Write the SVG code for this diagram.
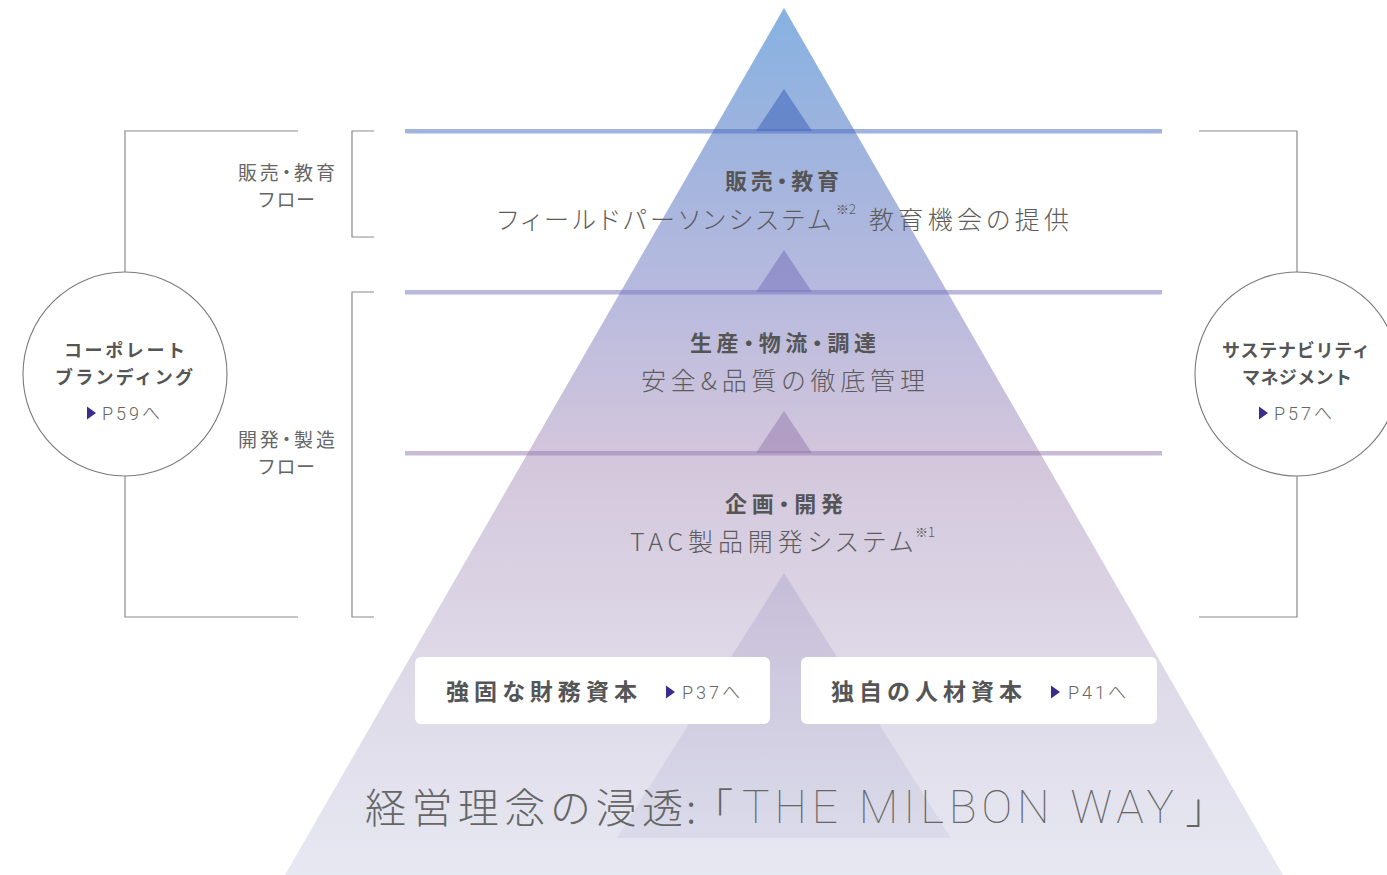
<svg xmlns="http://www.w3.org/2000/svg" width="1387" height="875" viewBox="0 0 1387 875">
<defs>
<linearGradient id="gMain" gradientUnits="userSpaceOnUse" x1="0" y1="8" x2="0" y2="875">
<stop offset="0" stop-color="#86b2e2"/>
<stop offset="0.14" stop-color="#9cb3de"/>
<stop offset="0.33" stop-color="#b8bade"/>
<stop offset="0.515" stop-color="#d3c6dc"/>
<stop offset="0.7" stop-color="#dcd5e5"/>
<stop offset="1" stop-color="#e6e8f2"/>
</linearGradient>
<linearGradient id="gInner" gradientUnits="userSpaceOnUse" x1="0" y1="573" x2="0" y2="838">
<stop offset="0" stop-color="#a79ec6" stop-opacity="0.4"/>
<stop offset="1" stop-color="#c2c2dc" stop-opacity="0.3"/>
</linearGradient>
<polygon id="arrowHead" points="0,-6.5 9,0 0,6.5"/>
</defs>
<style>
.ln{fill:none;stroke:#8a8a8a;stroke-width:1.2}
.circ{fill:#ffffff;stroke:#7a7a7a;stroke-width:1.1}
.hd{font-family:"Noto Sans CJK JP","Noto Sans",sans-serif;font-weight:700;fill:#555555;font-feature-settings:"palt"}
.lt{font-family:"Noto Sans CJK JP","Noto Sans",sans-serif;font-weight:300;fill:#5c5c5c;font-feature-settings:"palt"}
.lbl{font-family:"Noto Sans CJK JP","Noto Sans",sans-serif;font-weight:400;fill:#666666;font-feature-settings:"palt"}
.pg{font-family:"Roboto","Noto Sans CJK JP",sans-serif;font-weight:300;fill:#666666;font-size:18px}
.arr{fill:#3c2a8c}
.box{fill:#ffffff}
</style>

<g id="pyramid">
<polygon points="784,8 1283,875 285,875" fill="url(#gMain)"/>
<polygon points="784,573 951,838 617,838" fill="url(#gInner)"/>
</g>

<g id="connectors">
<rect x="405" y="129" width="757" height="4.5" fill="rgb(70,105,190)" fill-opacity="0.5"/>
<polygon points="784,89 812,131 756,131" fill="rgb(70,105,190)" fill-opacity="0.6"/>
<rect x="405" y="290" width="757" height="4.5" fill="rgb(120,114,188)" fill-opacity="0.5"/>
<polygon points="784,250 812,292 756,292" fill="rgb(120,114,188)" fill-opacity="0.55"/>
<rect x="405" y="451" width="757" height="4.5" fill="rgb(147,120,172)" fill-opacity="0.5"/>
<polygon points="784,411 812,453 756,453" fill="rgb(147,120,172)" fill-opacity="0.5"/>
<polyline class="ln" points="298,131 125,131 125,617 298,617"/>
<polyline class="ln" points="374,131 352,131 352,237 374,237"/>
<polyline class="ln" points="374,292 352,292 352,617 374,617"/>
<polyline class="ln" points="1199,131 1297,131 1297,617 1199,617"/>
</g>

<g id="layer-sales">
<text class="hd" x="725" y="189" font-size="22" textLength="114" lengthAdjust="spacing">販売・教育</text>
<text class="lt" x="497" y="229" font-size="25" textLength="334" lengthAdjust="spacing">フィールドパーソンシステム</text>
<text class="lt" x="836" y="214" font-size="13">※2</text>
<text class="lt" x="869" y="229" font-size="25" textLength="200" lengthAdjust="spacing">教育機会の提供</text>
</g>

<g id="layer-production">
<text class="hd" x="690" y="351" font-size="22" textLength="186" lengthAdjust="spacing">生産・物流・調達</text>
<text class="lt" x="641" y="390" font-size="25" textLength="284" lengthAdjust="spacing">安全&amp;品質の徹底管理</text>
</g>

<g id="layer-planning">
<text class="hd" x="725" y="512" font-size="22" textLength="118" lengthAdjust="spacing">企画・開発</text>
<text class="lt" x="630" y="551" font-size="25" textLength="283" lengthAdjust="spacing">TAC製品開発システム</text>
<text class="lt" x="915" y="537" font-size="13">※1</text>
</g>

<g id="capital-financial">
<rect class="box" x="415" y="657" width="355" height="67" rx="6"/>
<text class="hd" x="446" y="700" font-size="23" textLength="191" lengthAdjust="spacing">強固な財務資本</text>
<use href="#arrowHead" class="arr" x="666" y="692"/>
<text class="pg" x="682" y="699" textLength="58" lengthAdjust="spacing">P37へ</text>
</g>

<g id="capital-human">
<rect class="box" x="801" y="657" width="356" height="67" rx="6"/>
<text class="hd" x="831" y="700" font-size="23" textLength="191" lengthAdjust="spacing">独自の人材資本</text>
<use href="#arrowHead" class="arr" x="1051" y="692"/>
<text class="pg" x="1068" y="699" textLength="58" lengthAdjust="spacing">P41へ</text>
</g>

<g id="philosophy" fill="#666666">
<text y="823" font-family="'Noto Sans CJK JP','Noto Sans',sans-serif" font-weight="200" font-size="41" style="font-feature-settings:'palt'"><tspan x="365" textLength="318" lengthAdjust="spacing">経営理念の浸透</tspan><tspan x="686">:</tspan><tspan x="712">「</tspan><tspan x="1186">」</tspan></text>
<text x="742" y="823" font-family="Roboto,'Liberation Sans',sans-serif" font-weight="100" font-size="46" textLength="432" lengthAdjust="spacing">THE MILBON WAY</text>
</g>

<g id="corporate-branding">
<circle class="circ" cx="125" cy="374" r="102"/>
<text class="hd" x="64" y="357" font-size="18" textLength="121" lengthAdjust="spacing" style="font-feature-settings:normal">コーポレート</text>
<text class="hd" x="55" y="384" font-size="18" textLength="138" lengthAdjust="spacing" style="font-feature-settings:normal">ブランディング</text>
<use href="#arrowHead" class="arr" x="87" y="413"/>
<text class="pg" x="102" y="420" textLength="58" lengthAdjust="spacing">P59へ</text>
</g>

<g id="sustainability-management">
<circle class="circ" cx="1297" cy="374" r="102"/>
<text class="hd" x="1222" y="357" font-size="18" textLength="148" lengthAdjust="spacing" style="font-feature-settings:normal">サステナビリティ</text>
<text class="hd" x="1242" y="384" font-size="18" textLength="110" lengthAdjust="spacing" style="font-feature-settings:normal">マネジメント</text>
<use href="#arrowHead" class="arr" x="1259" y="413"/>
<text class="pg" x="1274" y="420" textLength="58" lengthAdjust="spacing">P57へ</text>
</g>

<g id="flow-sales">
<text class="lbl" x="238" y="180" font-size="19" textLength="97" lengthAdjust="spacing">販売・教育</text>
<text class="lbl" x="257" y="207" font-size="19" textLength="58" lengthAdjust="spacing" style="font-feature-settings:normal">フロー</text>
</g>

<g id="flow-development">
<text class="lbl" x="238" y="447" font-size="19" textLength="97" lengthAdjust="spacing">開発・製造</text>
<text class="lbl" x="257" y="474" font-size="19" textLength="58" lengthAdjust="spacing" style="font-feature-settings:normal">フロー</text>
</g>
</svg>
